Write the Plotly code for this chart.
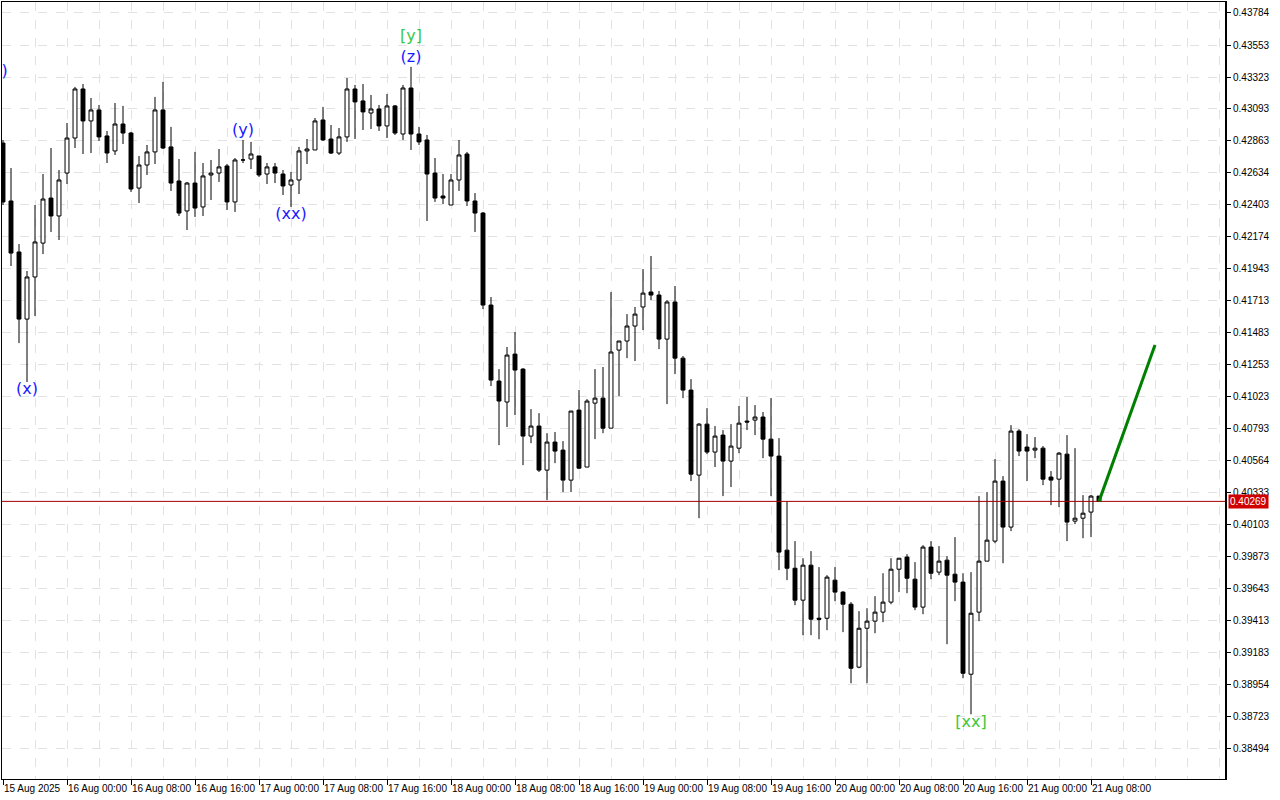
import plotly.graph_objects as go
import pandas as pd

# ---- data -------------------------------------------------------------
times = pd.date_range("2025-08-15 16:00", periods=138, freq="h")

open_ = [0.42848, 0.42431, 0.42064, 0.41581, 0.41884, 0.42128, 0.42452, 0.42323, 0.42632, 0.42884,
         0.43237, 0.43007, 0.43086, 0.42899, 0.42791, 0.42985, 0.42920, 0.42524, 0.42690, 0.42784,
         0.43086, 0.42820, 0.42575, 0.42359, 0.42560, 0.42388, 0.42618, 0.42632, 0.42683, 0.42424,
         0.42726, 0.42733, 0.42755, 0.42625, 0.42676, 0.42625, 0.42546, 0.42582, 0.42791, 0.42798,
         0.43014, 0.42877, 0.42776, 0.42892, 0.43237, 0.43151, 0.43064, 0.43093, 0.42971, 0.43115,
         0.42913, 0.43244, 0.42913, 0.42870, 0.42632, 0.42467, 0.42402, 0.42582, 0.42769, 0.42431,
         0.42344, 0.41682, 0.41135, 0.40984, 0.41329, 0.41221, 0.40739, 0.40811, 0.40494, 0.40696,
         0.40638, 0.40422, 0.40926, 0.40516, 0.40976, 0.41012, 0.40796, 0.41358, 0.41423, 0.41531,
         0.41668, 0.41776, 0.41754, 0.41437, 0.41704, 0.41300, 0.41070, 0.40458, 0.40825, 0.40624,
         0.40746, 0.40559, 0.40652, 0.40847, 0.40854, 0.40876, 0.40717, 0.40595, 0.39918, 0.39788,
         0.39558, 0.39810, 0.39428, 0.39428, 0.39702, 0.39616, 0.39529, 0.39076, 0.39356, 0.39407,
         0.39472, 0.39544, 0.39781, 0.39868, 0.39709, 0.39508, 0.39940, 0.39760, 0.39846, 0.39745,
         0.39688, 0.39025, 0.39472, 0.39839, 0.39983, 0.40415, 0.40084, 0.40775, 0.40660, 0.40638,
         0.40652, 0.40444, 0.40429, 0.40609, 0.40127, 0.40148, 0.40192, 0.40307]

high = [0.42870, 0.42668, 0.42121, 0.41927, 0.42402, 0.42625, 0.42812, 0.42654, 0.42992, 0.43252,
        0.43273, 0.43172, 0.43122, 0.42935, 0.43136, 0.43115, 0.42928, 0.42755, 0.42834, 0.43180,
        0.43288, 0.42964, 0.42733, 0.42568, 0.42784, 0.42704, 0.42726, 0.42805, 0.42697, 0.42740,
        0.42870, 0.42856, 0.42755, 0.42704, 0.42704, 0.42654, 0.42640, 0.42820, 0.42877, 0.43028,
        0.43108, 0.42978, 0.42956, 0.43316, 0.43266, 0.43273, 0.43194, 0.43122, 0.43201, 0.43122,
        0.43266, 0.43396, 0.42964, 0.42906, 0.42740, 0.42625, 0.42625, 0.42870, 0.42784, 0.42488,
        0.42352, 0.41740, 0.41221, 0.41380, 0.41488, 0.41228, 0.40933, 0.40904, 0.40760, 0.40768,
        0.40703, 0.40919, 0.41070, 0.41005, 0.41221, 0.41236, 0.41776, 0.41423, 0.41617, 0.41668,
        0.41941, 0.42035, 0.41783, 0.41718, 0.41819, 0.41315, 0.41149, 0.40832, 0.40940, 0.40811,
        0.40782, 0.40825, 0.40955, 0.41020, 0.40962, 0.40912, 0.41012, 0.40724, 0.40271, 0.39983,
        0.39860, 0.39911, 0.39796, 0.39738, 0.39796, 0.39623, 0.39544, 0.39479, 0.39500, 0.39587,
        0.39752, 0.39860, 0.39860, 0.39889, 0.39832, 0.39954, 0.39983, 0.39947, 0.39875, 0.40012,
        0.39752, 0.39760, 0.40307, 0.40336, 0.40573, 0.40451, 0.40818, 0.40789, 0.40753, 0.40732,
        0.40667, 0.40487, 0.40624, 0.40746, 0.40652, 0.40314, 0.40314, 0.40307]

low = [0.42402, 0.41963, 0.41408, 0.41128, 0.41603, 0.42049, 0.42208, 0.42150, 0.42553, 0.42812,
       0.42769, 0.42776, 0.42863, 0.42704, 0.42762, 0.42841, 0.42496, 0.42416, 0.42618, 0.42697,
       0.42805, 0.42503, 0.42323, 0.42222, 0.42316, 0.42323, 0.42438, 0.42568, 0.42366, 0.42352,
       0.42704, 0.42661, 0.42604, 0.42553, 0.42560, 0.42474, 0.42388, 0.42481, 0.42697, 0.42798,
       0.42863, 0.42769, 0.42762, 0.42856, 0.42877, 0.42942, 0.42949, 0.42935, 0.42884, 0.42906,
       0.42870, 0.42798, 0.42834, 0.42287, 0.42424, 0.42409, 0.42402, 0.42503, 0.42395, 0.42208,
       0.41653, 0.41099, 0.40674, 0.40804, 0.40890, 0.40530, 0.40688, 0.40480, 0.40278, 0.40544,
       0.40336, 0.40336, 0.40501, 0.40516, 0.40717, 0.40760, 0.40796, 0.41027, 0.41300, 0.41279,
       0.41502, 0.41718, 0.41365, 0.40969, 0.41185, 0.41012, 0.40415, 0.40148, 0.40609, 0.40516,
       0.40307, 0.40372, 0.40616, 0.40782, 0.40746, 0.40580, 0.40307, 0.39774, 0.39702, 0.39522,
       0.39306, 0.39306, 0.39277, 0.39342, 0.39551, 0.39328, 0.38960, 0.39068, 0.38960, 0.39320,
       0.39400, 0.39529, 0.39616, 0.39608, 0.39486, 0.39457, 0.39709, 0.39738, 0.39241, 0.39551,
       0.38996, 0.38737, 0.39407, 0.39839, 0.39968, 0.39824, 0.40055, 0.40595, 0.40415, 0.40580,
       0.40386, 0.40242, 0.40228, 0.39983, 0.40105, 0.40004, 0.40012, 0.40269]

close = [0.42424, 0.42056, 0.41581, 0.41884, 0.42136, 0.42445, 0.42323, 0.42582, 0.42884, 0.43237,
         0.43007, 0.43086, 0.42892, 0.42776, 0.42985, 0.42920, 0.42517, 0.42690, 0.42784, 0.43086,
         0.42812, 0.42560, 0.42344, 0.42560, 0.42380, 0.42611, 0.42632, 0.42676, 0.42424, 0.42726,
         0.42726, 0.42769, 0.42618, 0.42676, 0.42632, 0.42539, 0.42582, 0.42791, 0.42805, 0.43007,
         0.42870, 0.42776, 0.42892, 0.43237, 0.43144, 0.43072, 0.43093, 0.42971, 0.43115, 0.42920,
         0.43244, 0.42913, 0.42856, 0.42625, 0.42452, 0.42452, 0.42582, 0.42762, 0.42431, 0.42344,
         0.41682, 0.41142, 0.40991, 0.41322, 0.41214, 0.40739, 0.40811, 0.40494, 0.40696, 0.40631,
         0.40422, 0.40919, 0.40508, 0.40991, 0.41012, 0.40796, 0.41344, 0.41423, 0.41531, 0.41617,
         0.41768, 0.41754, 0.41437, 0.41704, 0.41300, 0.41070, 0.40465, 0.40825, 0.40624, 0.40739,
         0.40559, 0.40667, 0.40832, 0.40840, 0.40876, 0.40717, 0.40595, 0.39904, 0.39788, 0.39558,
         0.39810, 0.39421, 0.39421, 0.39724, 0.39616, 0.39529, 0.39068, 0.39356, 0.39407, 0.39472,
         0.39544, 0.39781, 0.39860, 0.39716, 0.39508, 0.39940, 0.39752, 0.39839, 0.39738, 0.39688,
         0.39032, 0.39464, 0.39839, 0.39990, 0.40415, 0.40084, 0.40775, 0.40631, 0.40631, 0.40652,
         0.40429, 0.40422, 0.40616, 0.40120, 0.40148, 0.40184, 0.40307, 0.40269]

price_ticks = [0.43784, 0.43553, 0.43323, 0.43093, 0.42863, 0.42634, 0.42403, 0.42174, 0.41943,
               0.41713, 0.41483, 0.41253, 0.41023, 0.40793, 0.40564, 0.40333, 0.40103, 0.39873,
               0.39643, 0.39413, 0.39183, 0.38954, 0.38723, 0.38494]
price_tick_text = ["0.43784", "0.43553", "0.43323", "0.43093", "0.42863", "0.42634", "0.42403",
                   "0.42174", "0.41943", "0.41713", "0.41483", "0.41253", "0.41023", "0.40793",
                   "0.40564", "0.40333", "0.40103", "0.39873", "0.39643", "0.39413", "0.39183",
                   "0.38954", "0.38723", "0.38494"]

time_tick_pos = ["2025-08-15 16:00", "2025-08-16 00:00", "2025-08-16 08:00", "2025-08-16 16:00",
                 "2025-08-17 00:00", "2025-08-17 08:00", "2025-08-17 16:00", "2025-08-18 00:00",
                 "2025-08-18 08:00", "2025-08-18 16:00", "2025-08-19 00:00", "2025-08-19 08:00",
                 "2025-08-19 16:00", "2025-08-20 00:00", "2025-08-20 08:00", "2025-08-20 16:00",
                 "2025-08-21 00:00", "2025-08-21 08:00"]
time_tick_text = ["15 Aug 2025", "16 Aug 00:00", "16 Aug 08:00", "16 Aug 16:00", "17 Aug 00:00",
                  "17 Aug 08:00", "17 Aug 16:00", "18 Aug 00:00", "18 Aug 08:00", "18 Aug 16:00",
                  "19 Aug 00:00", "19 Aug 08:00", "19 Aug 16:00", "20 Aug 00:00", "20 Aug 08:00",
                  "20 Aug 16:00", "21 Aug 00:00", "21 Aug 08:00"]

current_price = 0.40269

# forecast arrow (green)
forecast_x = ["2025-08-21 09:00", "2025-08-21 16:00"]
forecast_y = [0.40269, 0.41395]

# wave labels
blue_labels = ["(w)", "(x)", "(y)", "(xx)", "(z)"]
blue_x = ["2025-08-15 15:00", "2025-08-15 19:00", "2025-08-16 22:00", "2025-08-17 04:00", "2025-08-17 19:00"]
blue_y = [0.43360, 0.41070, 0.42935, 0.42330, 0.43460]
green_labels = ["[y]", "[xx]"]
green_x = ["2025-08-17 19:00", "2025-08-20 17:00"]
green_y = [0.43612, 0.38672]

# ---- figure -----------------------------------------------------------
fig = go.Figure()

fig.add_trace(go.Candlestick(
    x=times, open=open_, high=high, low=low, close=close,
    increasing=dict(line=dict(color="black", width=1), fillcolor="white"),
    decreasing=dict(line=dict(color="black", width=1), fillcolor="black"),
    whiskerwidth=0, showlegend=False, hoverinfo="skip",
))

fig.add_trace(go.Scatter(
    x=[times[0] - pd.Timedelta(hours=2), times[-1] + pd.Timedelta(hours=20)],
    y=[current_price, current_price], mode="lines",
    line=dict(color="#A00000", width=1), showlegend=False, hoverinfo="skip",
))

fig.add_trace(go.Scatter(
    x=forecast_x, y=forecast_y, mode="lines",
    line=dict(color="#008000", width=3), showlegend=False, hoverinfo="skip",
))

fig.add_trace(go.Scatter(
    x=blue_x, y=blue_y, mode="text", text=blue_labels, textposition="middle center",
    textfont=dict(family="DejaVu Sans", size=16, color="#1a1aff"),
    cliponaxis=True, showlegend=False, hoverinfo="skip",
))
fig.add_trace(go.Scatter(
    x=green_x, y=green_y, mode="text", text=green_labels, textposition="middle center",
    textfont=dict(family="DejaVu Sans", size=16, color="#3cc83c"),
    cliponaxis=True, showlegend=False, hoverinfo="skip",
))

fig.update_xaxes(
    type="date",
    range=["2025-08-15 15:52:30", "2025-08-22 00:52:30"],
    tickvals=time_tick_pos, ticktext=time_tick_text,
    tickangle=0,
    ticks="outside", ticklen=5, tickcolor="black",
    ticklabelposition="outside right",
    tickfont=dict(family="Liberation Sans", size=10, color="black"),
    showline=True, linecolor="black", linewidth=1, mirror=True,
    showgrid=True, gridcolor="#e2e2e2", griddash="dash", gridwidth=1,
    minor=dict(dtick=4 * 3600000, tick0="2025-08-15 16:00", showgrid=True,
               gridcolor="#e2e2e2", griddash="dash", ticks=""),
    rangeslider=dict(visible=False),
    zeroline=False, automargin=False,
)

fig.update_yaxes(
    range=[0.38271, 0.43863],
    side="right",
    tickvals=price_ticks, ticktext=price_tick_text,
    ticks="outside", ticklen=4, tickcolor="black",
    tickfont=dict(family="Liberation Sans", size=10, color="black"),
    showline=True, linecolor="black", linewidth=1, mirror=True,
    showgrid=True, gridcolor="#e2e2e2", griddash="dash", gridwidth=1,
    zeroline=False, automargin=False,
)

fig.add_shape(type="line", xref="paper", yref="paper", x0=1, x1=1, y0=0, y1=1,
              line=dict(color="black", width=2))

fig.add_annotation(
    xref="paper", x=1, xanchor="left", xshift=2,
    y=current_price, yanchor="middle",
    text="0.40269", showarrow=False,
    bgcolor="#d00000", borderpad=1,
    font=dict(family="Liberation Sans", size=10, color="white"),
)

fig.update_layout(
    width=1280, height=800,
    margin=dict(l=2, r=54, t=2, b=21),
    paper_bgcolor="white", plot_bgcolor="white",
    showlegend=False,
)

fig.write_html("out.html", config={"displayModeBar": False},
               post_script="document.body.style.margin='0';document.body.style.overflow='hidden';")
